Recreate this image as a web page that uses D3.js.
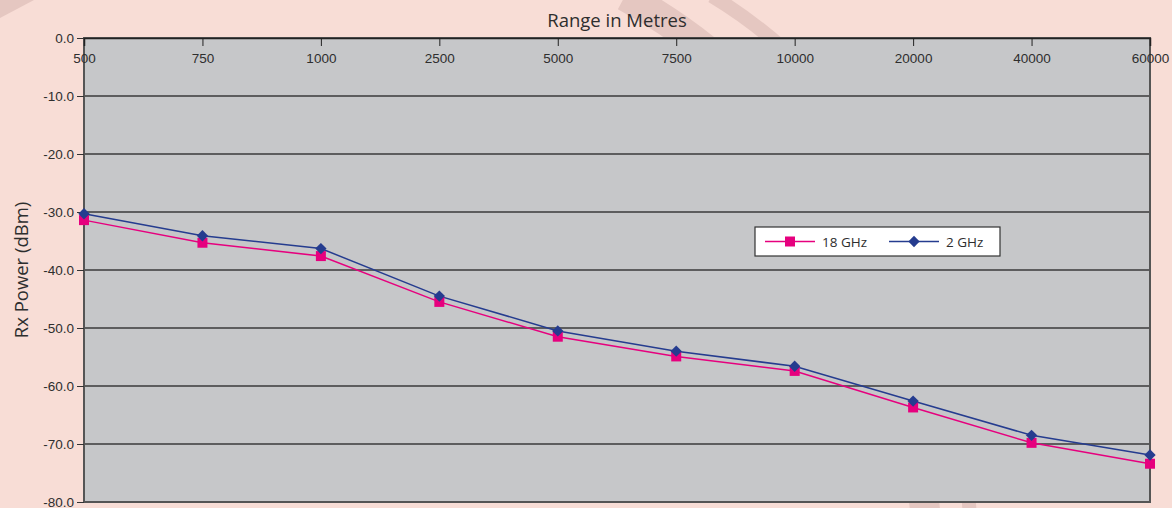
<!DOCTYPE html>
<html>
<head>
<meta charset="utf-8">
<script src="https://cdn.jsdelivr.net/npm/d3@7"></script>
<style>
  html, body { margin: 0; padding: 0; background: #f8ddd6; }
  svg { display: block; font-family: 'Open Sans', 'Noto Sans', sans-serif; }
</style>
</head>
<body>
<div id="chart"></div>
<script>
// Data
const ranges = ['500', '750', '1000', '2500', '5000', '7500', '10000', '20000', '40000', '60000'];
const power18 = [-31.4, -35.3, -37.6, -45.5, -51.5, -54.9, -57.4, -63.7, -69.8, -73.4];
const power2 = [-30.3, -34.1, -36.3, -44.5, -50.5, -54.0, -56.6, -62.6, -68.5, -71.9];
const yTicks = [0, -10, -20, -30, -40, -50, -60, -70, -80];

const width = 1172;
const height = 508;
const margin = { top: 38, right: 22, bottom: 6, left: 84 };
const plotW = width - margin.left - margin.right;
const plotH = height - margin.top - margin.bottom;

const svg = d3
  .select('#chart')
  .append('svg')
  .attr('width', width)
  .attr('height', height);

// Background with decorative swooshes
svg.append('rect').attr('width', width).attr('height', height).attr('fill', '#f8ddd6');
svg
  .append('path')
  .attr('d', 'M0,18 L34,0 L0,0 Z')
  .attr('fill', '#e5c7c1');
svg
  .append('path')
  .attr('d', 'M625,-4 Q890,140 926,520')
  .attr('fill', 'none')
  .attr('stroke', '#e5c7c1')
  .attr('stroke-width', 30);
svg
  .append('path')
  .attr('d', 'M712,-4 Q950,140 970,520')
  .attr('fill', 'none')
  .attr('stroke', '#e5c7c1')
  .attr('stroke-width', 14);

const g = svg
  .append('g')
  .attr('transform', 'translate(' + margin.left + ',' + margin.top + ')');

// Scales
const x = d3.scalePoint().domain(ranges).range([0, plotW]).padding(0);
const y = d3.scaleLinear().domain([-80, 0]).range([plotH, 0]);

// Plot area
g.append('rect')
  .attr('width', plotW)
  .attr('height', plotH)
  .attr('fill', '#c6c7c9');

// Horizontal gridlines
g.selectAll('.grid')
  .data(yTicks.filter((d) => d !== 0 && d !== -80))
  .enter()
  .append('line')
  .attr('class', 'grid')
  .attr('x1', 0)
  .attr('x2', plotW)
  .attr('y1', (d) => y(d))
  .attr('y2', (d) => y(d))
  .attr('stroke', '#3a3a3a')
  .attr('stroke-width', 1.5);

// Plot border
g.append('rect')
  .attr('width', plotW)
  .attr('height', plotH)
  .attr('fill', 'none')
  .attr('stroke', '#555')
  .attr('stroke-width', 2);

// X axis along top, labels inside
const xAxis = g
  .append('g')
  .call(d3.axisBottom(x).tickSize(8).tickPadding(7));
xAxis.select('.domain').attr('stroke', '#222').attr('stroke-width', 1.5);
xAxis.selectAll('.tick line').attr('stroke', '#222');
xAxis
  .selectAll('text')
  .attr('fill', '#2e2e2e')
  .style('font-size', '13.5px');

// Y axis
const yAxis = g
  .append('g')
  .call(
    d3
      .axisLeft(y)
      .tickValues(yTicks)
      .tickSize(7)
      .tickPadding(3)
      .tickFormat((d) => d.toFixed(1)),
  );
yAxis.select('.domain').remove();
yAxis.selectAll('.tick line').attr('stroke', '#333');
yAxis
  .selectAll('text')
  .attr('fill', '#2e2e2e')
  .style('font-size', '13.5px');

// Titles
svg
  .append('text')
  .attr('x', margin.left + plotW / 2)
  .attr('y', 27)
  .attr('text-anchor', 'middle')
  .attr('fill', '#2e2e2e')
  .style('font-size', '18.5px')
  .text('Range in Metres');

svg
  .append('text')
  .attr('transform', 'translate(28,' + (margin.top + plotH / 2) + ') rotate(-90)')
  .attr('text-anchor', 'middle')
  .attr('fill', '#2e2e2e')
  .style('font-size', '18.5px')
  .text('Rx Power (dBm)');

// Series
const series = [
  { name: '18 GHz', values: power18, color: '#e6007e', symbol: d3.symbolSquare, size: 100, rotate: 0 },
  { name: '2 GHz', values: power2, color: '#253c8f', symbol: d3.symbolSquare, size: 64, rotate: 45 },
];

const line = d3
  .line()
  .x((d, i) => x(ranges[i]))
  .y((d) => y(d));

series.forEach((s) => {
  g.append('path')
    .datum(s.values)
    .attr('d', line)
    .attr('fill', 'none')
    .attr('stroke', s.color)
    .attr('stroke-width', 1.5);
});

series.forEach((s) => {
  g.selectAll('.pt-' + s.rotate)
    .data(s.values)
    .enter()
    .append('path')
    .attr('d', d3.symbol().type(s.symbol).size(s.size))
    .attr('transform', (d, i) => 'translate(' + x(ranges[i]) + ',' + y(d) + ') rotate(' + s.rotate + ')')
    .attr('fill', s.color);
});

// Legend
const legend = svg.append('g').attr('transform', 'translate(755,227)');
legend
  .append('rect')
  .attr('width', 245)
  .attr('height', 29)
  .attr('fill', '#fff')
  .attr('stroke', '#333')
  .attr('stroke-width', 1.2);

series.forEach((s, i) => {
  const item = legend.append('g').attr('transform', 'translate(10,14.5)'.replace('10', 10 + i * 124));
  item
    .append('line')
    .attr('x1', 0)
    .attr('x2', 50)
    .attr('stroke', s.color)
    .attr('stroke-width', 1.5);
  item
    .append('path')
    .attr('d', d3.symbol().type(s.symbol).size(s.size))
    .attr('transform', 'translate(25,0) rotate(' + s.rotate + ')')
    .attr('fill', s.color);
  item
    .append('text')
    .attr('x', 57)
    .attr('y', 5)
    .attr('fill', '#2e2e2e')
    .style('font-size', '13.5px')
    .text(s.name);
});
</script>
</body>
</html>
